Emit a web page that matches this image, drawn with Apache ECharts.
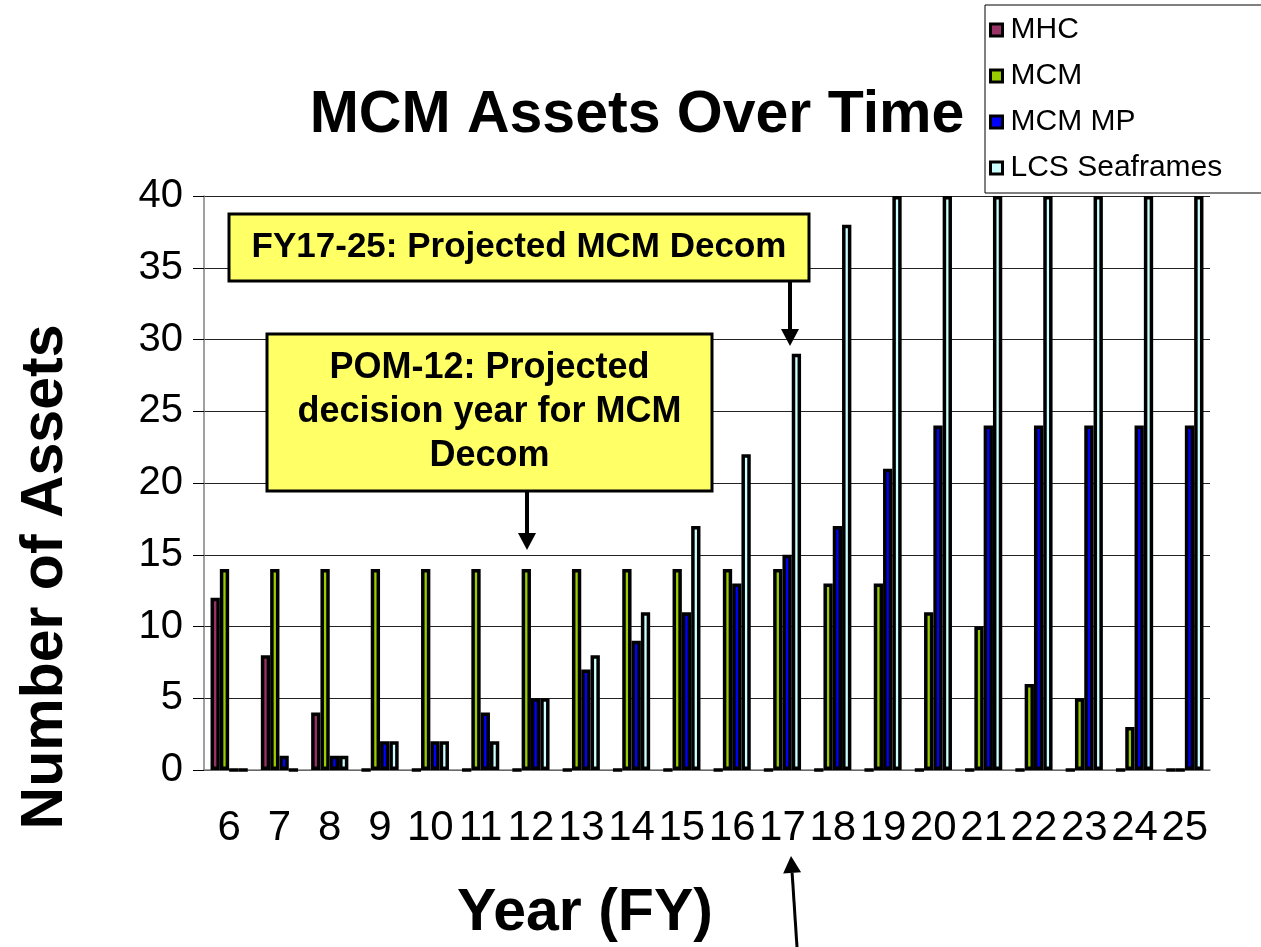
<!DOCTYPE html>
<html lang="en">
<head>
    <meta charset="UTF-8">
    <title>MCM Assets Over Time</title>
    <style>
        *{
            margin: 0;
            padding: 0;
        }
        body{
            background: #fff;
        }
        #chart{
            width: 1261px;
            height: 947px;
        }
    </style>
</head>
<body>
    <div id="chart"></div>
    <script src="https://cdn.jsdelivr.net/npm/echarts@6/dist/echarts.min.js"></script>
    <script>
        // fiscal years (FY)
        var years = ['6', '7', '8', '9', '10', '11', '12', '13', '14', '15',
                     '16', '17', '18', '19', '20', '21', '22', '23', '24', '25'];
        var mhc = [12, 8, 4, 0, 0, 0, 0, 0, 0, 0, 0, 0, 0, 0, 0, 0, 0, 0, 0, 0];
        var mcm = [14, 14, 14, 14, 14, 14, 14, 14, 14, 14, 14, 14, 13, 13, 11, 10, 6, 5, 3, 0];
        var mcmMp = [0, 1, 1, 2, 2, 4, 5, 7, 9, 11, 13, 15, 17, 21, 24, 24, 24, 24, 24, 24];
        var lcs = [0, 0, 1, 2, 2, 2, 5, 8, 11, 17, 22, 29, 38, 40, 40, 40, 40, 40, 40, 40];
        var yTicks = [0, 40, 5];   // min, max, step

        var seriesNames = ['MHC', 'MCM', 'MCM MP', 'LCS Seaframes'];
        var seriesData = [mhc, mcm, mcmMp, lcs];
        var colors = ['#993366', '#99CC00', '#0000FF', '#CCFFFF'];

        var font = '"Liberation Sans", Arial, sans-serif';
        var chart = echarts.init(document.getElementById('chart'));

        function arrow(x1, y1, x2, y2, w){
            // line from (x1,y1) to tip (x2,y2) with a triangle head
            var dx = x2 - x1, dy = y2 - y1;
            var len = Math.sqrt(dx * dx + dy * dy);
            var ux = dx / len, uy = dy / len;
            var hl = 17, hw = 9;
            var bx = x2 - ux * hl, by = y2 - uy * hl;
            return [{
                type: 'line',
                z: 20,
                shape: {x1: x1, y1: y1, x2: bx, y2: by},
                style: {stroke: '#000', lineWidth: w}
            }, {
                type: 'polygon',
                z: 20,
                shape: {points: [[x2, y2], [bx - uy * hw, by + ux * hw], [bx + uy * hw, by - ux * hw]]},
                style: {fill: '#000'}
            }];
        }

        function note(x, y, w, h, text, size, lh){
            return [{
                type: 'rect',
                z: 20,
                shape: {x: x, y: y, width: w, height: h},
                style: {fill: '#FFFF66', stroke: '#000', lineWidth: 3}
            }, {
                type: 'text',
                z: 21,
                x: x + w / 2,
                y: y + h / 2,
                style: {
                    text: text,
                    fill: '#000',
                    font: 'bold ' + size + 'px ' + font,
                    lineHeight: lh,
                    align: 'center',
                    verticalAlign: 'middle'
                }
            }];
        }

        var graphics = [{
            type: 'rect',
            z: 1,
            shape: {x: 985, y: 5, width: 300, height: 188},
            style: {fill: '#fff', stroke: '#000', lineWidth: 1}
        }, {
            type: 'text',
            z: 20,
            x: 637,
            y: 116,
            style: {
                text: 'MCM Assets Over Time',
                fill: '#000',
                font: 'bold 59px ' + font,
                align: 'center',
                verticalAlign: 'middle'
            }
        }, {
            type: 'text',
            z: 20,
            x: 46,
            y: 577,
            rotation: Math.PI / 2,
            style: {
                text: 'Number of Assets',
                fill: '#000',
                font: 'bold 59px ' + font,
                align: 'center',
                verticalAlign: 'middle'
            }
        }, {
            type: 'text',
            z: 20,
            x: 585,
            y: 914,
            style: {
                text: 'Year (FY)',
                fill: '#000',
                font: 'bold 59px ' + font,
                align: 'center',
                verticalAlign: 'middle'
            }
        }];
        graphics = graphics
            .concat(note(229, 214, 580, 67, 'FY17-25: Projected MCM Decom', 35, 40))
            .concat(arrow(790, 281, 790, 346, 4))
            .concat(note(267, 334, 445, 157, 'POM-12: Projected\ndecision year for MCM\nDecom', 36, 44))
            .concat(arrow(527, 491, 527, 550, 4))
            .concat(arrow(797, 947, 791, 856, 3));

        var series = seriesNames.map(function(name, i){
            return {
                name: name,
                type: 'bar',
                data: seriesData[i],
                barGap: 0,
                barCategoryGap: '26%',
                itemStyle: {
                    color: colors[i],
                    borderColor: '#000',
                    borderWidth: 3.5
                }
            };
        });

        var option = {
            animation: false,
            backgroundColor: '#fff',
            textStyle: {fontFamily: font},
            grid: {
                left: 204,
                right: 51,
                top: 196,
                bottom: 177,
                containLabel: false
            },
            legend: {
                orient: 'vertical',
                left: 989,
                top: 14,
                padding: 0,
                itemWidth: 12,
                itemHeight: 12,
                itemGap: 14,
                icon: 'rect',
                selectedMode: false,
                data: seriesNames,
                itemStyle: {borderColor: '#000', borderWidth: 3},
                textStyle: {
                    fontSize: 30,
                    lineHeight: 32,
                    color: '#000',
                    fontFamily: font,
                    padding: [0, 0, 0, 3]
                }
            },
            xAxis: {
                type: 'category',
                data: years,
                axisLine: {lineStyle: {color: '#808080', width: 1.5}},
                axisTick: {show: false},
                axisLabel: {
                    fontSize: 42,
                    color: '#000',
                    margin: 37,
                    interval: 0
                }
            },
            yAxis: {
                type: 'value',
                min: yTicks[0],
                max: yTicks[1],
                interval: yTicks[2],
                axisLine: {show: true, lineStyle: {color: '#808080', width: 1.5}},
                axisTick: {show: true, length: 11, lineStyle: {color: '#000'}},
                axisLabel: {
                    fontSize: 40,
                    color: '#000',
                    margin: 21
                },
                splitLine: {lineStyle: {color: '#222', width: 1}}
            },
            graphic: graphics,
            series: series
        };

        chart.setOption(option);
    </script>
</body>
</html>
